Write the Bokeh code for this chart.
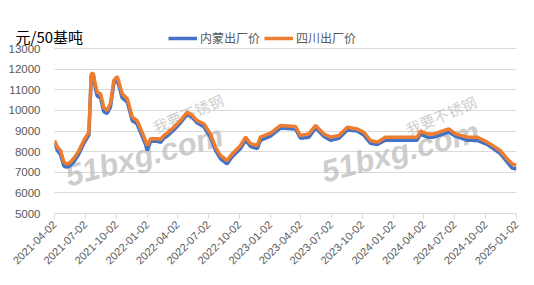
import math
import pandas as pd
from bokeh.plotting import figure
from bokeh.models import (FixedTicker, DatetimeTickFormatter, Range1d, Legend, LegendItem,
                          Label, ColumnDataSource)
from bokeh.embed import file_html
from bokeh.resources import INLINE

dates = ["2021-04-02", "2021-04-11", "2021-04-20", "2021-04-30", "2021-05-08", "2021-05-17",
         "2021-05-29", "2021-06-12", "2021-06-28", "2021-07-13", "2021-07-20", "2021-07-26",
         "2021-08-02", "2021-08-07", "2021-08-17", "2021-08-26", "2021-09-05", "2021-09-15",
         "2021-09-25", "2021-10-05", "2021-10-10", "2021-10-20", "2021-11-04", "2021-11-19",
         "2021-12-03", "2021-12-18", "2021-12-28", "2022-01-02", "2022-01-12", "2022-02-01",
         "2022-02-11", "2022-02-20", "2022-03-02", "2022-03-22", "2022-04-11", "2022-05-01",
         "2022-05-16", "2022-05-30", "2022-06-19", "2022-07-09", "2022-07-24", "2022-08-08",
         "2022-08-27", "2022-09-11", "2022-10-06", "2022-10-21", "2022-11-05", "2022-11-25",
         "2022-12-04", "2023-01-03", "2023-02-02", "2023-03-18", "2023-04-02", "2023-04-27",
         "2023-05-17", "2023-06-10", "2023-06-30", "2023-07-25", "2023-08-19", "2023-09-17",
         "2023-10-07", "2023-10-27", "2023-11-16", "2023-12-10", "2024-03-13", "2024-03-23",
         "2024-04-12", "2024-05-02", "2024-06-15", "2024-07-05", "2024-08-09", "2024-09-07",
         "2024-10-07", "2024-11-15", "2024-12-05", "2024-12-20", "2025-01-02"]

sichuan = [8540, 8200, 8050, 7490, 7400, 7450, 7670, 8000, 8540, 8940, 11770, 11800, 11200,
           10880, 10800, 10150, 10000, 10330, 11450, 11640, 11370, 10800, 10560, 9670, 9510,
           8940, 8540, 8300, 8620, 8620, 8600, 8780, 8900, 9180, 9510, 9910, 9750, 9510, 9350,
           8860, 8210, 7810, 7570, 7890, 8300, 8700, 8380, 8300, 8700, 8900, 9270, 9220, 8780,
           8860, 9270, 8860, 8700, 8780, 9180, 9100, 8940, 8540, 8460, 8700, 8700, 8990, 8860,
           8860, 9100, 8860, 8700, 8700, 8460, 8050, 7650, 7410, 7330]

neimeng = [8400, 8050, 7850, 7300, 7250, 7300, 7500, 7850, 8400, 8800, 11650, 11700, 11000,
           10700, 10600, 9950, 9850, 10150, 11300, 11500, 11200, 10600, 10400, 9500, 9350,
           8750, 8350, 8050, 8500, 8500, 8450, 8650, 8750, 9050, 9400, 9800, 9650, 9400, 9200,
           8700, 8050, 7650, 7400, 7750, 8150, 8550, 8250, 8150, 8550, 8750, 9150, 9100, 8650,
           8700, 9150, 8750, 8550, 8650, 9050, 9000, 8800, 8400, 8350, 8550, 8550, 8850, 8700,
           8700, 8950, 8750, 8550, 8550, 8350, 7900, 7500, 7200, 7160]

tick_dates = ["2021-04-02", "2021-07-02", "2021-10-02", "2022-01-02", "2022-04-02",
              "2022-07-02", "2022-10-02", "2023-01-02", "2023-04-02", "2023-07-02",
              "2023-10-02", "2024-01-02", "2024-04-02", "2024-07-02", "2024-10-02",
              "2025-01-02"]
y_ticks = [5000, 6000, 7000, 8000, 9000, 10000, 11000, 12000, 13000]

title_text = "元/50基吨"
series_names = ["内蒙出厂价", "四川出厂价"]
colors = ["#4472C4", "#ED7D31"]

dt = pd.to_datetime(dates)
src = ColumnDataSource(dict(x=dt, nm=neimeng, sc=sichuan))
tick_ms = [pd.Timestamp(d).value / 1e6 for d in tick_dates]

# frame extends 20 px above the 13000 line so the legend row sits inside the frame
y_lo, y_hi = y_ticks[0], y_ticks[-1]
frame_top_extra = (y_hi - y_lo) * 20 / 165

p = figure(width=534, height=285, output_backend="svg", toolbar_location=None,
           x_axis_type="datetime",
           x_range=Range1d(tick_ms[0], tick_ms[-1]),
           y_range=Range1d(y_lo, y_hi + frame_top_extra),
           min_border_left=54, min_border_right=18, min_border_top=28, min_border_bottom=72)
p.outline_line_color = None
p.background_fill_color = "white"
p.border_fill_color = "white"

p.title.text = title_text
p.title.align = "left"
p.title.offset = -39
p.title.text_font = "Noto Sans CJK SC"
p.title.text_font_size = "15px"
p.title.text_font_style = "normal"
p.title.text_color = "#000000"
p.title.standoff = -37

for wx, wy, cx, cy in [(16, 20, 103, 76), (272, 24, 356, 74)]:
    p.add_layout(Label(x=wx, y=wy, x_units="screen", y_units="screen", text="51bxg.com",
                       text_font="Liberation Sans", text_font_style="bold italic",
                       text_font_size="31px", text_color="#bdbdbd", text_alpha=0.75,
                       angle=0.26, level="underlay"))
    p.add_layout(Label(x=cx, y=cy, x_units="screen", y_units="screen", text="我要不锈钢",
                       text_font="Noto Sans CJK SC",
                       text_font_size="15px", text_color="#bdbdbd", text_alpha=0.75,
                       angle=0.4, level="underlay"))

r1 = p.line("x", "nm", source=src, line_color=colors[0], line_width=3.5)
r2 = p.line("x", "sc", source=src, line_color=colors[1], line_width=3.5)

p.xaxis.ticker = FixedTicker(ticks=tick_ms)
p.xaxis.formatter = DatetimeTickFormatter(days="%Y-%m-%d", months="%Y-%m-%d", years="%Y-%m-%d")
p.xaxis.major_label_orientation = math.pi / 4
p.xaxis.axis_line_color = "#d9d9d9"
p.xaxis.major_tick_line_color = "#d9d9d9"
p.xaxis.major_tick_out = 5
p.xaxis.major_tick_in = 0
p.xaxis.minor_tick_line_color = None
p.xaxis.major_label_text_font = "Liberation Sans"
p.xaxis.major_label_text_font_size = "11px"
p.xaxis.major_label_text_color = "#595959"
p.xaxis.major_label_standoff = 4
p.xgrid.grid_line_color = None

p.yaxis.ticker = FixedTicker(ticks=y_ticks)
p.yaxis.axis_line_color = None
p.yaxis.major_tick_line_color = None
p.yaxis.minor_tick_line_color = None
p.yaxis.major_label_text_font = "Liberation Sans"
p.yaxis.major_label_text_font_size = "11.5px"
p.yaxis.major_label_text_color = "#595959"
p.yaxis.major_label_standoff = 8
p.ygrid.grid_line_color = "#d9d9d9"
p.ygrid.grid_line_width = 1

legend = Legend(items=[LegendItem(label=series_names[0], renderers=[r1]),
                       LegendItem(label=series_names[1], renderers=[r2])],
                orientation="horizontal", location=(114, 167))
legend.label_text_font = "Noto Sans CJK SC"
legend.label_text_font_size = "12px"
legend.label_text_color = "#595959"
legend.glyph_width = 29
legend.glyph_height = 14
legend.label_height = 14
legend.label_standoff = 3
legend.spacing = 4
legend.padding = 0
legend.margin = 0
legend.border_line_color = None
legend.background_fill_alpha = 0
p.add_layout(legend, "center")

open("out.html", "w").write(file_html(p, INLINE))
